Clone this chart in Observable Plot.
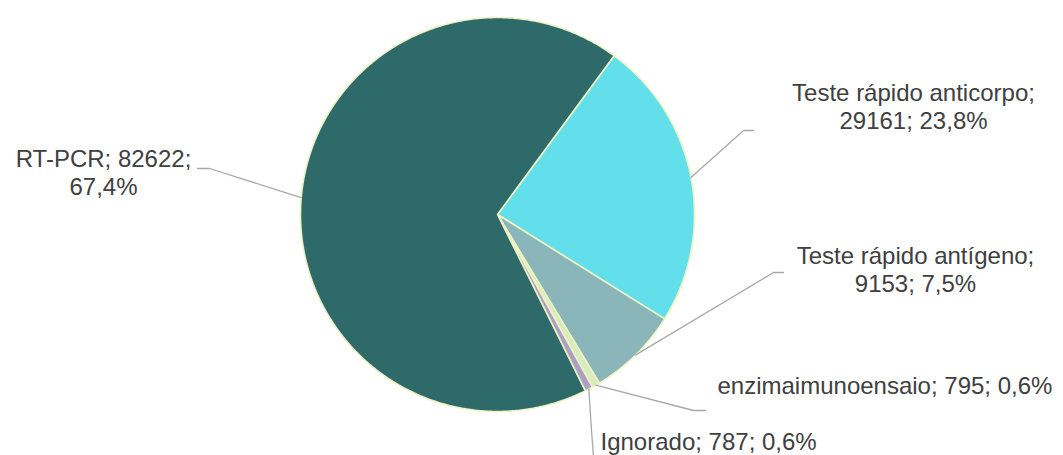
<!DOCTYPE html>
<html><head><meta charset="utf-8">
<script src="https://cdn.jsdelivr.net/npm/d3@7"></script>
<script src="https://cdn.jsdelivr.net/npm/@observablehq/plot@0.6"></script>
<style>body{margin:0;background:#fff}</style>
</head><body><div id="chart"></div>
<script>
// ---- data ----
const categories = ["Teste rápido anticorpo", "Teste rápido antígeno", "enzimaimunoensaio", "Ignorado", "RT-PCR"];
const values = [29161, 9153, 795, 787, 82622];
const percentLabels = ["23,8%", "7,5%", "0,6%", "0,6%", "67,4%"];
const breakAfter = ["name", "name", null, null, "value"];

// ---- styles / layout ----
const colors = ["#63dfec", "#8ab5b9", "#d9ebbd", "#ad9fc4", "#2f6a6b"];
const W = 1063, H = 455;
const cx = 497, cy = 214, R = 197, startDeg = 36.3;
const labelX = [913, 915, 717, 600, 103];
const labelY = [128, 291, 393, 449, 194];
const labelAnchor = ["middle", "middle", "start", "start", "middle"];
const elbowX = [743, 773, 693, 591, 209];
const elbowY = [130, 272, 410, 430, 168];
const endX = [753, 783, 705, 593, 197];
const endY = [130, 272, 410, 456, 168];

const total = d3.sum(values);
const pt = (deg, r) => {
  const a = deg * Math.PI / 180;
  return {x: cx + r * Math.sin(a), y: cy - r * Math.cos(a)};
};

const slicePts = [];
const leaderPts = [];
const labels = [];
let cum = 0;
categories.forEach((name, i) => {
  const a0 = startDeg + cum / total * 360;
  const a1 = a0 + values[i] / total * 360;
  cum += values[i];
  slicePts.push({name, color: colors[i], x: cx, y: cy});
  const n = Math.max(2, Math.ceil((a1 - a0) / 0.5));
  for (let k = 0; k <= n; k++) {
    const p = pt(a0 + (a1 - a0) * k / n, R);
    slicePts.push({name, color: colors[i], ...p});
  }
  slicePts.push({name, color: colors[i], x: cx, y: cy});
  const m = pt((a0 + a1) / 2, R);
  leaderPts.push({name, ...m}, {name, x: elbowX[i], y: elbowY[i]}, {name, x: endX[i], y: endY[i]});
  let text;
  if (breakAfter[i] === "name") text = `${name};\n${values[i]}; ${percentLabels[i]}`;
  else if (breakAfter[i] === "value") text = `${name}; ${values[i]};\n${percentLabels[i]}`;
  else text = `${name}; ${values[i]}; ${percentLabels[i]}`;
  labels.push({text, x: labelX[i], y: labelY[i], anchor: labelAnchor[i]});
});

const textOpts = {x: "x", y: "y", text: "text", lineAnchor: "bottom", fontSize: 24, lineHeight: 1.15,
  fill: "#404040", fontFamily: "Liberation Sans, Arial, sans-serif"};

const chart = Plot.plot({
  width: W, height: H, margin: 0,
  style: {background: "#fff"},
  x: {domain: [0, W], range: [0, W], axis: null},
  y: {domain: [0, H], range: [0, H], axis: null},
  color: {type: "identity"},
  marks: [
    Plot.line(slicePts, {x: "x", y: "y", z: "name", fill: "color", stroke: "#eef3c4", strokeWidth: 1.6, strokeLinejoin: "round", curve: "linear"}),
    Plot.line(leaderPts, {x: "x", y: "y", z: "name", stroke: "#a8a8a8", strokeWidth: 1.3}),
    Plot.text(labels.filter(d => d.anchor === "middle"), {...textOpts, textAnchor: "middle"}),
    Plot.text(labels.filter(d => d.anchor === "start"), {...textOpts, textAnchor: "start"})
  ]
});
document.getElementById("chart").appendChild(chart);
</script>
</body></html>
